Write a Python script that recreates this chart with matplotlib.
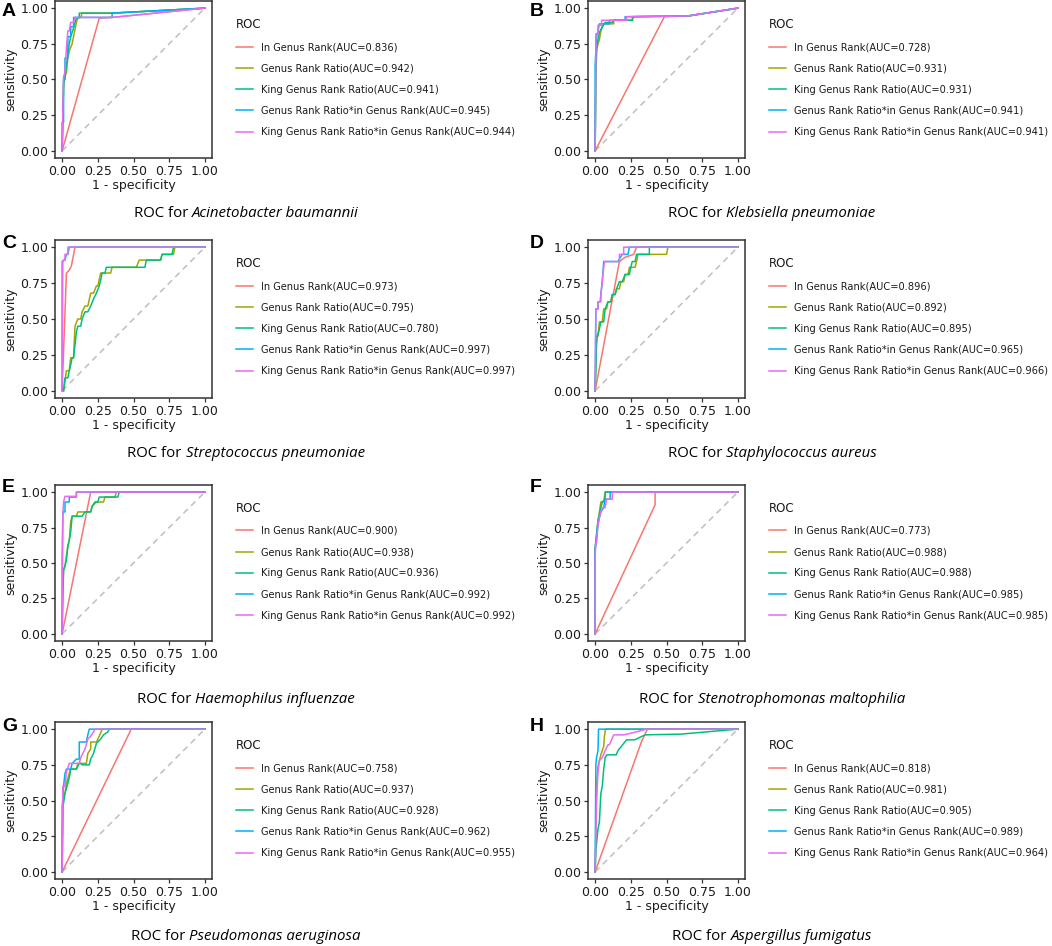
import matplotlib
matplotlib.use("Agg")
import matplotlib.pyplot as plt

# ROC curves, (1 - specificity, sensitivity) pairs
methods = [
    "In Genus Rank",
    "Genus Rank Ratio",
    "King Genus Rank Ratio",
    "Genus Rank Ratio*in Genus Rank",
    "King Genus Rank Ratio*in Genus Rank",
]
colors = ["#F8766D", "#A3A500", "#00BF7D", "#00B0F6", "#E76BF3"]

letters = ["A", "B", "C", "D", "E", "F", "G", "H"]
species = [
    "Acinetobacter baumannii", "Klebsiella pneumoniae",
    "Streptococcus pneumoniae", "Staphylococcus aureus",
    "Haemophilus influenzae", "Stenotrophomonas maltophilia",
    "Pseudomonas aeruginosa", "Aspergillus fumigatus",
]

auc_A = [0.836, 0.942, 0.941, 0.945, 0.944]
auc_B = [0.728, 0.931, 0.931, 0.941, 0.941]
auc_C = [0.973, 0.795, 0.780, 0.997, 0.997]
auc_D = [0.896, 0.892, 0.895, 0.965, 0.966]
auc_E = [0.900, 0.938, 0.936, 0.992, 0.992]
auc_F = [0.773, 0.988, 0.988, 0.985, 0.985]
auc_G = [0.758, 0.937, 0.928, 0.962, 0.955]
auc_H = [0.818, 0.981, 0.905, 0.989, 0.964]

roc_A = [
    [(0, 0), (0.26, 0.93), (0.35, 0.935), (1, 1)],
    [(0, 0), (0.005, 0.2), (0.01, 0.45), (0.02, 0.52), (0.03, 0.55), (0.04, 0.65),
     (0.05, 0.7), (0.07, 0.75), (0.08, 0.8), (0.09, 0.85), (0.1, 0.9), (0.11, 0.93),
     (0.13, 0.935), (0.14, 0.965), (0.35, 0.965), (1, 1)],
    [(0, 0), (0.005, 0.2), (0.01, 0.48), (0.02, 0.52), (0.03, 0.6), (0.04, 0.68),
     (0.05, 0.75), (0.06, 0.8), (0.08, 0.86), (0.09, 0.9), (0.1, 0.93),
     (0.12, 0.935), (0.12, 0.965), (0.35, 0.965), (1, 1)],
    [(0, 0), (0, 0.2), (0.01, 0.2), (0.01, 0.5), (0.02, 0.5), (0.02, 0.65),
     (0.04, 0.65), (0.04, 0.8), (0.06, 0.8), (0.06, 0.87), (0.08, 0.87),
     (0.08, 0.935), (0.35, 0.935), (0.35, 0.965), (1, 1)],
    [(0, 0), (0.005, 0.3), (0.01, 0.52), (0.02, 0.55), (0.03, 0.72), (0.04, 0.84),
     (0.05, 0.84), (0.06, 0.9), (0.08, 0.9), (0.09, 0.935), (0.35, 0.935), (1, 1)],
]
roc_B = [
    [(0, 0), (0.485, 0.94), (0.65, 0.945), (1, 1)],
    [(0, 0), (0.005, 0.55), (0.01, 0.7), (0.02, 0.75), (0.03, 0.78), (0.04, 0.84),
     (0.06, 0.89), (0.13, 0.89), (0.13, 0.915), (0.26, 0.915), (0.26, 0.94),
     (0.65, 0.945), (1, 1)],
    [(0, 0), (0.005, 0.5), (0.01, 0.72), (0.02, 0.78), (0.03, 0.83), (0.05, 0.87),
     (0.07, 0.9), (0.12, 0.9), (0.13, 0.915), (0.26, 0.915), (0.27, 0.94),
     (0.65, 0.945), (1, 1)],
    [(0, 0), (0, 0.6), (0.01, 0.8), (0.02, 0.84), (0.03, 0.89), (0.1, 0.89),
     (0.1, 0.915), (0.21, 0.915), (0.21, 0.94), (0.65, 0.945), (1, 1)],
    [(0, 0), (0.005, 0.6), (0.005, 0.82), (0.02, 0.82), (0.02, 0.88), (0.045, 0.88),
     (0.045, 0.915), (0.22, 0.915), (0.22, 0.94), (0.65, 0.945), (1, 1)],
]
roc_C = [
    [(0, 0), (0.03, 0.82), (0.05, 0.84), (0.065, 0.87), (0.09, 1.0), (1, 1)],
    [(0.01, 0), (0.03, 0.14), (0.05, 0.14), (0.06, 0.23), (0.08, 0.23), (0.09, 0.45),
     (0.11, 0.5), (0.13, 0.5), (0.14, 0.55), (0.16, 0.59), (0.18, 0.59), (0.2, 0.68),
     (0.22, 0.68), (0.24, 0.73), (0.25, 0.73), (0.27, 0.82), (0.34, 0.82),
     (0.35, 0.86), (0.52, 0.86), (0.54, 0.91), (0.69, 0.91), (0.7, 0.95),
     (0.78, 0.95), (0.79, 1.0), (1, 1)],
    [(0.01, 0), (0.02, 0.09), (0.04, 0.09), (0.05, 0.14), (0.06, 0.18), (0.07, 0.23),
     (0.08, 0.23), (0.1, 0.41), (0.11, 0.45), (0.13, 0.45), (0.14, 0.5),
     (0.16, 0.55), (0.18, 0.55), (0.2, 0.59), (0.22, 0.64), (0.24, 0.68),
     (0.26, 0.73), (0.27, 0.77), (0.28, 0.82), (0.3, 0.82), (0.31, 0.86),
     (0.58, 0.86), (0.59, 0.91), (0.69, 0.91), (0.7, 0.95), (0.77, 0.95),
     (0.78, 1.0), (1, 1)],
    [(0, 0), (0, 0.9), (0.02, 0.91), (0.03, 0.95), (0.04, 0.95), (0.05, 1.0), (1, 1)],
    [(0, 0), (0.005, 0.91), (0.02, 0.91), (0.02, 0.95), (0.04, 0.95), (0.04, 1.0),
     (1, 1)],
]
roc_D = [
    [(0, 0), (0.17, 0.9), (0.21, 0.93), (0.27, 0.95), (0.29, 1.0), (1, 1)],
    [(0, 0), (0.01, 0.38), (0.02, 0.38), (0.03, 0.48), (0.05, 0.48), (0.06, 0.57),
     (0.08, 0.57), (0.09, 0.62), (0.11, 0.62), (0.12, 0.67), (0.14, 0.67),
     (0.15, 0.71), (0.17, 0.71), (0.18, 0.76), (0.2, 0.76), (0.21, 0.81),
     (0.23, 0.81), (0.24, 0.86), (0.28, 0.86), (0.29, 0.9), (0.3, 0.95),
     (0.5, 0.95), (0.51, 1.0), (1, 1)],
    [(0, 0), (0.01, 0.33), (0.015, 0.38), (0.03, 0.43), (0.04, 0.48), (0.06, 0.48),
     (0.07, 0.57), (0.09, 0.62), (0.11, 0.62), (0.12, 0.67), (0.14, 0.67),
     (0.15, 0.71), (0.17, 0.76), (0.19, 0.76), (0.21, 0.81), (0.24, 0.81),
     (0.25, 0.86), (0.26, 0.9), (0.28, 0.9), (0.29, 0.95), (0.38, 0.95),
     (0.38, 1.0), (1, 1)],
    [(0, 0), (0.005, 0.57), (0.02, 0.57), (0.02, 0.62), (0.035, 0.62), (0.04, 0.67),
     (0.05, 0.76), (0.06, 0.9), (0.16, 0.9), (0.19, 0.95), (0.23, 0.95),
     (0.24, 1.0), (1, 1)],
    [(0, 0), (0.005, 0.57), (0.02, 0.57), (0.02, 0.62), (0.04, 0.62), (0.04, 0.67),
     (0.06, 0.86), (0.066, 0.9), (0.17, 0.9), (0.17, 0.95), (0.2, 0.95),
     (0.2, 1.0), (1, 1)],
]
roc_E = [
    [(0, 0), (0.2, 1.0), (1, 1)],
    [(0, 0), (0.005, 0.3), (0.01, 0.45), (0.02, 0.48), (0.03, 0.55), (0.04, 0.62),
     (0.05, 0.66), (0.06, 0.79), (0.07, 0.83), (0.1, 0.83), (0.11, 0.86),
     (0.2, 0.86), (0.21, 0.9), (0.24, 0.93), (0.29, 0.93), (0.3, 0.965),
     (0.37, 0.965), (0.38, 1.0), (1, 1)],
    [(0, 0), (0.005, 0.3), (0.01, 0.45), (0.02, 0.48), (0.03, 0.52), (0.04, 0.62),
     (0.05, 0.66), (0.06, 0.72), (0.07, 0.83), (0.14, 0.83), (0.16, 0.86),
     (0.2, 0.86), (0.21, 0.9), (0.23, 0.93), (0.25, 0.93), (0.26, 0.965),
     (0.39, 0.965), (0.4, 1.0), (1, 1)],
    [(0, 0), (0, 0.52), (0.005, 0.86), (0.02, 0.86), (0.02, 0.93), (0.05, 0.93),
     (0.05, 0.965), (0.1, 0.965), (0.1, 1.0), (1, 1)],
    [(0, 0), (0.005, 0.83), (0.01, 0.93), (0.02, 0.97), (0.1, 0.97), (0.1, 1.0),
     (1, 1)],
]
roc_F = [
    [(0, 0), (0.42, 0.91), (0.42, 1.0), (1, 1)],
    [(0, 0), (0, 0.6), (0.01, 0.7), (0.02, 0.8), (0.03, 0.86), (0.04, 0.93),
     (0.06, 0.93), (0.07, 1.0), (1, 1)],
    [(0, 0), (0, 0.6), (0.01, 0.7), (0.02, 0.8), (0.03, 0.84), (0.04, 0.89),
     (0.05, 0.93), (0.07, 0.95), (0.07, 1.0), (1, 1)],
    [(0, 0), (0, 0.6), (0.01, 0.68), (0.02, 0.77), (0.03, 0.82), (0.04, 0.86),
     (0.06, 0.89), (0.07, 0.95), (0.105, 0.95), (0.105, 1.0), (1, 1)],
    [(0, 0), (0, 0.55), (0.005, 0.64), (0.01, 0.64), (0.02, 0.77), (0.03, 0.82),
     (0.04, 0.86), (0.05, 0.89), (0.07, 0.89), (0.08, 0.95), (0.12, 0.95),
     (0.12, 1.0), (1, 1)],
]
roc_G = [
    [(0, 0), (0.484, 1.0), (1, 1)],
    [(0, 0), (0.005, 0.45), (0.01, 0.52), (0.02, 0.55), (0.03, 0.62), (0.05, 0.69),
     (0.06, 0.72), (0.1, 0.72), (0.11, 0.76), (0.17, 0.76), (0.18, 0.83),
     (0.2, 0.86), (0.2, 0.91), (0.24, 0.91), (0.26, 0.95), (0.28, 1.0), (1, 1)],
    [(0, 0), (0.005, 0.45), (0.02, 0.55), (0.04, 0.62), (0.05, 0.66), (0.06, 0.72),
     (0.1, 0.72), (0.12, 0.76), (0.13, 0.76), (0.14, 0.75), (0.19, 0.75),
     (0.2, 0.79), (0.22, 0.83), (0.24, 0.9), (0.27, 0.93), (0.29, 0.96),
     (0.32, 0.98), (0.33, 1.0), (1, 1)],
    [(0, 0), (0, 0.45), (0.01, 0.6), (0.02, 0.69), (0.03, 0.72), (0.06, 0.72),
     (0.07, 0.76), (0.1, 0.79), (0.12, 0.79), (0.12, 0.91), (0.17, 0.91),
     (0.18, 0.96), (0.19, 1.0), (1, 1)],
    [(0, 0), (0.005, 0.6), (0.02, 0.6), (0.03, 0.7), (0.05, 0.76), (0.12, 0.76),
     (0.13, 0.8), (0.16, 0.86), (0.18, 0.93), (0.2, 0.95), (0.22, 0.98),
     (0.23, 1.0), (1, 1)],
]
roc_H = [
    [(0, 0), (0.325, 0.913), (0.367, 1.0), (1, 1)],
    [(0, 0), (0.01, 0.6), (0.02, 0.74), (0.03, 0.78), (0.04, 0.82), (0.05, 0.85),
     (0.06, 0.88), (0.065, 0.95), (0.073, 1.0), (1, 1)],
    [(0, 0), (0.005, 0.15), (0.02, 0.3), (0.03, 0.35), (0.04, 0.55), (0.05, 0.6),
     (0.06, 0.72), (0.07, 0.8), (0.082, 0.82), (0.148, 0.82), (0.16, 0.85),
     (0.22, 0.925), (0.277, 0.925), (0.35, 0.96), (0.6, 0.965), (1, 1)],
    [(0, 0), (0.005, 0.75), (0.01, 0.8), (0.02, 0.85), (0.024, 1.0), (1, 1)],
    [(0, 0), (0.01, 0.5), (0.02, 0.7), (0.03, 0.78), (0.05, 0.8), (0.07, 0.85),
     (0.09, 0.89), (0.1, 0.89), (0.13, 0.96), (0.2, 0.96), (0.265, 0.975),
     (0.36, 1.0), (1, 1)],
]

rocs = [roc_A, roc_B, roc_C, roc_D, roc_E, roc_F, roc_G, roc_H]
aucs = [auc_A, auc_B, auc_C, auc_D, auc_E, auc_F, auc_G, auc_H]
ticks = [0.0, 0.25, 0.5, 0.75, 1.0]
tick_labels = ["0.00", "0.25", "0.50", "0.75", "1.00"]

W, H = 1052, 946
# axes boxes in pixels: column lefts and row (top, bottom)
col_left = [55, 588]
ax_w = 157
row_top = [1, 240, 485, 722]
row_bot = [158, 398, 641, 879]
letter_x = [2, 530]
letter_y = [11.5, 243.5, 487, 726]
title_center = [246, 772]
title_base = [217, 457, 703, 940]

fig = plt.figure(figsize=(W / 100, H / 100), dpi=100)
frame_col = "#333333"
text_col = "#1a1a1a"

for i in range(8):
    r, c = divmod(i, 2)
    left = col_left[c] / W
    bottom = 1 - row_bot[r] / H
    height = (row_bot[r] - row_top[r]) / H
    ax = fig.add_axes([left, bottom, ax_w / W, height])

    ax.plot([0, 1], [0, 1], color="#BEBEBE", lw=1.1, ls=(0, (4, 3)), zorder=1)
    for k, pts in enumerate(rocs[i]):
        xs = [p[0] for p in pts]
        ys = [p[1] for p in pts]
        ax.plot(xs, ys, color=colors[k], lw=1.1, zorder=2,
                label=f"{methods[k]}(AUC={aucs[i][k]:.3f})")

    ax.set_xlim(-0.05, 1.05)
    ax.set_ylim(-0.05, 1.05)
    ax.set_xticks(ticks)
    ax.set_yticks(ticks)
    ax.set_xticklabels(tick_labels)
    ax.set_yticklabels(tick_labels)
    ax.tick_params(labelsize=9, length=3, width=0.9, color=frame_col,
                   labelcolor=text_col, pad=2)
    for sp in ax.spines.values():
        sp.set_color(frame_col)
        sp.set_linewidth(1.1)
    ax.set_xlabel("1 - specificity", fontsize=9, color=text_col, labelpad=1)
    ax.set_ylabel("sensitivity", fontsize=9, color=text_col, labelpad=2)

    leg = ax.legend(loc="upper left", bbox_to_anchor=(1.15, 0.893),
                    frameon=False, title="ROC", fontsize=7.1,
                    title_fontsize=8.5, alignment="left", borderpad=0,
                    handlelength=1.75, handletextpad=0.85, labelspacing=1.14,
                    borderaxespad=0)
    for t in leg.get_texts():
        t.set_color(text_col)
    leg.get_title().set_color(text_col)

    # panel letter
    fig.text(letter_x[c] / W, 1 - letter_y[r] / H, letters[i],
             fontsize=14, fontweight="bold", family="Liberation Sans",
             va="center", ha="left", color="black")

# titles: "ROC for " upright + italic species name
fig.canvas.draw()
renderer = fig.canvas.get_renderer()
for i in range(8):
    r, c = divmod(i, 2)
    y = 1 - title_base[r] / H
    t1 = fig.text(0, y, "ROC for ", fontsize=10.8, family="Open Sans",
                  va="baseline", ha="left", color="black")
    t2 = fig.text(0, y, species[i], fontsize=10.8, family="Open Sans",
                  style="italic", va="baseline", ha="left", color="black")
    w1 = t1.get_window_extent(renderer).width
    w2 = t2.get_window_extent(renderer).width
    x0 = title_center[c] - (w1 + w2) / 2
    t1.set_x(x0 / W)
    t2.set_x((x0 + w1) / W)

fig.savefig("out.png", dpi=100)
